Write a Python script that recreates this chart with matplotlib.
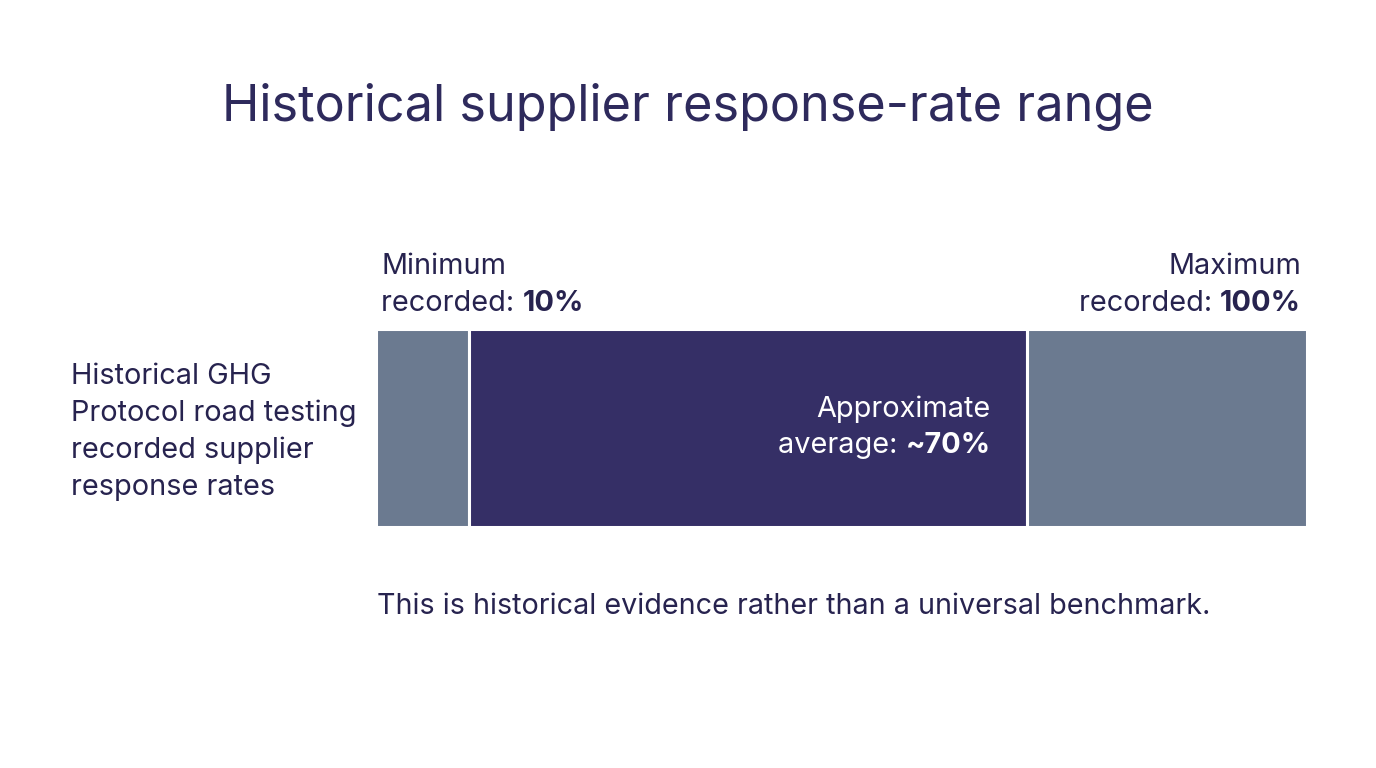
"""
Historical supplier response-rate range: one stacked bar with labels
"""
import matplotlib
matplotlib.use("Agg")
import matplotlib.pyplot as plt
from matplotlib.transforms import blended_transform_factory, offset_copy

plt.rcParams['font.family'] = ['Inter', 'DejaVu Sans']

# data
title = "Historical supplier response-rate range"
row_label = ["Historical GHG", "Protocol road testing", "recorded supplier", "response rates"]
min_value = 10
avg_value = 70
max_value = 100
segment_colors = ["#6b7a90", "#352f66", "#6b7a90"]
note = "This is historical evidence rather than a universal benchmark."

TEXT = "#27234f"
W, H = 1376, 768

fig = plt.figure(figsize=(W / 100, H / 100), dpi=100)
fig.patch.set_facecolor("white")
# a little wider than the bar so the white edge lines fall outside
ax = fig.add_axes([375.5 / W, 1 - 526.5 / H, 931 / W, 197 / H])

starts = [0, min_value, avg_value]
widths = [min_value, avg_value - min_value, max_value - avg_value]
ax.barh([0, 0, 0], widths, left=starts, height=1.0, color=segment_colors,
        edgecolor="white", linewidth=2.2)
ax.set_xlim(0, max_value)
ax.set_ylim(-0.5, 0.5)
ax.axis("off")


def fy(y_px):
    return 1 - y_px / H


trans = blended_transform_factory(ax.transData, fig.transFigure)
renderer = fig.canvas.get_renderer()


def two_part(x, y_px, regular, bold, ha, color, size):
    # regular text followed by a bold part on one line
    if ha == "left":
        t = ax.text(x, fy(y_px), regular, transform=trans, ha="left", va="baseline",
                    fontsize=size, color=color)
        w = t.get_window_extent(renderer).width
        ax.text(x, fy(y_px), bold, ha="left", va="baseline", fontsize=size, color=color,
                fontweight="bold", transform=offset_copy(trans, fig=fig, x=w, units="dots"))
    else:
        t = ax.text(x, fy(y_px), bold, transform=trans, ha="right", va="baseline",
                    fontsize=size, color=color, fontweight="bold")
        w = t.get_window_extent(renderer).width
        ax.text(x, fy(y_px), regular, ha="right", va="baseline", fontsize=size, color=color,
                transform=offset_copy(trans, fig=fig, x=-w, units="dots"))


fig.text(688 / W, fy(121), title, ha="center", va="baseline", fontsize=36.3, color="#2e2a5c")

# min label
ax.text(0.6, fy(274), "Minimum", transform=trans, ha="left", va="baseline",
        fontsize=20.8, color=TEXT)
two_part(0.6, 311, "recorded: ", f"{min_value}%", "left", TEXT, 20.8)

# max label
ax.text(max_value - 0.6, fy(274), "Maximum", transform=trans, ha="right", va="baseline",
        fontsize=20.8, color=TEXT)
two_part(max_value - 0.6, 311, "recorded: ", f"{max_value}%", "right", TEXT, 20.8)

# average label inside the dark segment
ax.text(avg_value - 3.9, fy(417), "Approximate", transform=trans, ha="right", va="baseline",
        fontsize=20.8, color="white")
two_part(avg_value - 3.9, 453, "average: ", f"~{avg_value}%", "right", "white", 20.8)

# row label
for i, line in enumerate(row_label):
    fig.text(71 / W, fy(384 + 37 * i), line, ha="left", va="baseline", fontsize=20.8, color=TEXT)

fig.text(377 / W, fy(614), note, ha="left", va="baseline", fontsize=20.7, color=TEXT)

fig.savefig("out.png", dpi=100, facecolor="white")
